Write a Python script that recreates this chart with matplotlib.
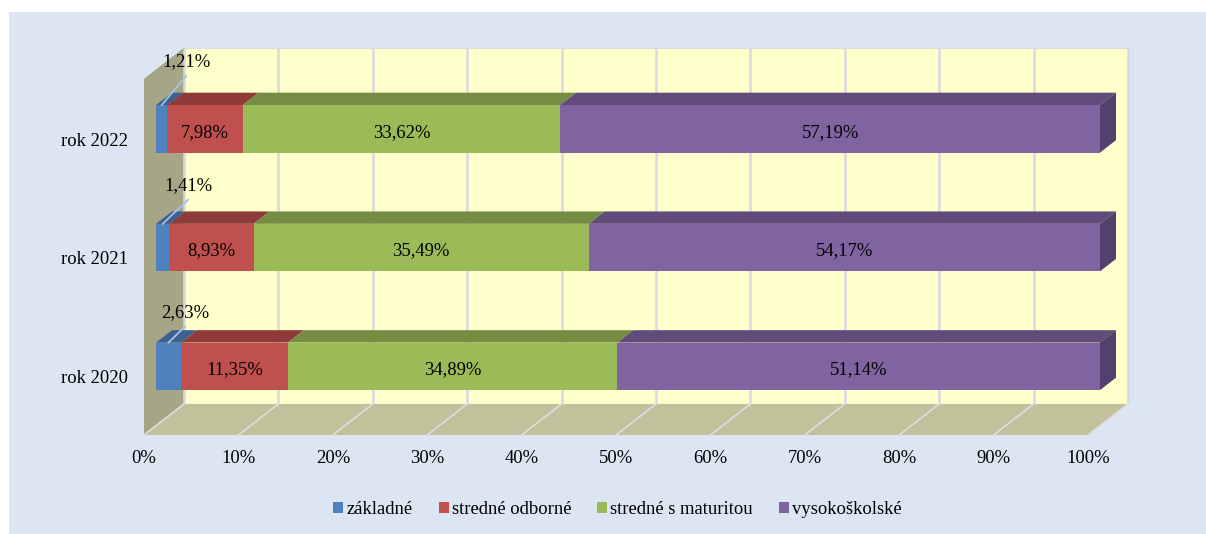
import matplotlib
matplotlib.use("Agg")
import matplotlib.pyplot as plt
from matplotlib.patches import Polygon, Rectangle, Patch
from matplotlib.transforms import ScaledTranslation

# ---------------------------------------------------------------- data
years = ["rok 2020", "rok 2021", "rok 2022"]
series = ["základné", "stredné odborné", "stredné s maturitou", "vysokoškolské"]
zakladne = [2.63, 1.41, 1.21]
odborne = [11.35, 8.93, 7.98]
maturita = [34.89, 35.49, 33.62]
vysoke = [51.14, 54.17, 57.19]
xticks = list(range(0, 101, 10))

# ---------------------------------------------------------------- style
FRONT = ["#4F81BD", "#C0504D", "#9BBB59", "#8064A2"]
TOP = ["#3B6190", "#8F3B39", "#758D43", "#604B7A"]
SIDE = "#54406F"
PANEL = "#DCE6F2"
WALL = "#FFFFCC"
LEFT_WALL = "#A6A686"
FLOOR = "#C1C19C"
GRID = "#D9D9E2"
LEADER = "#A3C2E8"
FONT = "Liberation Serif"

W, H = 1206, 534
AX_L, AX_R, AX_B, AX_T = 144, 1088, 435, 78.75
PX_X = (AX_R - AX_L) / 100  # pixels par %
PX_Y = (AX_B - AX_T) / 3    # pixels par categorie
# profondeur du dessin 3D, en unites de donnees
DX = 40 / PX_X
DY = 31 / PX_Y
BAR_D0, BAR_D1 = 0.3, 0.7
BAR_H = 0.2
# etiquettes du premier segment, en pixels (2020, 2021, 2022)
LABEL_RISE = [30, 38, 43]
LABEL_SHIFT = [29, 32, 30]
LEADER_GAP = 14
TEXT_DROP = 3.5

plt.rcParams["font.family"] = [FONT, "DejaVu Serif"]
plt.rcParams["font.size"] = 13.4

fig = plt.figure(figsize=(W / 100, H / 100), dpi=100, facecolor="white")
fig.patches.append(Rectangle((9 / W, 0), 1 - 9 / W, 1 - 12 / H, transform=fig.transFigure,
                             facecolor=PANEL, edgecolor="none", zorder=-1))
ax = fig.add_axes([AX_L / W, 1 - AX_B / H, (AX_R - AX_L) / W, (AX_B - AX_T) / H])
ax.patch.set_visible(False)
ax.set_xlim(0, 100)
ax.set_ylim(-0.5, 2.5)
for s in ax.spines.values():
    s.set_visible(False)


def poly(pts, color, z, edge="none", lw=0):
    ax.add_patch(Polygon(pts, closed=True, facecolor=color, edgecolor=edge, linewidth=lw,
                         zorder=z, clip_on=False))


# ---------------------------------------------------------------- walls
y0, y1 = ax.get_ylim()
poly([(DX, y0 + DY), (100 + DX, y0 + DY), (100 + DX, y1 + DY), (DX, y1 + DY)], WALL, 1,
     edge="#DDDDDD", lw=0.8)
poly([(0, y0), (DX, y0 + DY), (DX, y1 + DY), (0, y1)], LEFT_WALL, 1)
poly([(0, y0), (100, y0), (100 + DX, y0 + DY), (DX, y0 + DY)], FLOOR, 1)
for t in xticks:
    ax.plot([t + DX, t + DX], [y0 + DY, y1 + DY], color=GRID, lw=1.8, zorder=2,
            clip_on=False, solid_capstyle="butt")
    ax.plot([t, t + DX], [y0, y0 + DY], color="#DEDEDE", lw=1.2, zorder=2, clip_on=False)

# ---------------------------------------------------------------- bars
columns = [zakladne, odborne, maturita, vysoke]
for i in range(len(years)):
    left = 0
    ax0, ay0 = DX * BAR_D0, DY * BAR_D0
    ax1, ay1 = DX * BAR_D1, DY * BAR_D1
    low, high = i - BAR_H, i + BAR_H
    for k, col in enumerate(columns):
        v = col[i]
        x_a, x_b = left + ax0, left + v + ax0
        label = f"{v:.2f}%".replace(".", ",")
        # dessus
        poly([(x_a, high + ay0), (x_b, high + ay0),
              (left + v + ax1, high + ay1), (left + ax1, high + ay1)], TOP[k], 3 + i)
        # face avant
        poly([(x_a, low + ay0), (x_b, low + ay0), (x_b, high + ay0), (x_a, high + ay0)],
             FRONT[k], 4 + i)
        if k == 0:
            # etiquette avec ligne de rappel
            lx = x_a + LABEL_SHIFT[i] / PX_X
            ly = high + ay0 + LABEL_RISE[i] / PX_Y
            ax.plot([x_a + v / 2, lx], [high + ay0, ly - LEADER_GAP / PX_Y], color=LEADER,
                    lw=1.3, zorder=15, clip_on=False)
            ax.text(lx, ly, label, ha="center", va="center", color="black", zorder=20)
        else:
            ax.text((x_a + x_b) / 2, i + ay0 - TEXT_DROP / PX_Y, label,
                    ha="center", va="center", color="black", zorder=20)
        left += v
    # cote droit
    poly([(100 + ax0, low + ay0), (100 + ax1, low + ay1),
          (100 + ax1, high + ay1), (100 + ax0, high + ay0)], SIDE, 4 + i)

# ---------------------------------------------------------------- axes
ax.set_xticks(xticks)
ax.set_xticklabels([f"{t}%" for t in xticks])
ax.set_yticks(range(len(years)))
ax.set_yticklabels(years)
ax.tick_params(axis="x", length=0, pad=11)
ax.tick_params(axis="y", length=0, pad=11)
for lab in ax.get_yticklabels():
    lab.set_transform(lab.get_transform() + ScaledTranslation(-1 / 100, -1 / 100, fig.dpi_scale_trans))

handles = [Patch(facecolor=c, edgecolor="none", label=n) for c, n in zip(FRONT, series)]
fig.legend(handles=handles, ncol=4, frameon=False, loc="center", bbox_to_anchor=(617.5 / W, 1 - 509.5 / H),
           handlelength=0.54, handleheight=0.54, handletextpad=0.16, columnspacing=1.4, fontsize=13.4)

fig.savefig("out.png", dpi=100)
